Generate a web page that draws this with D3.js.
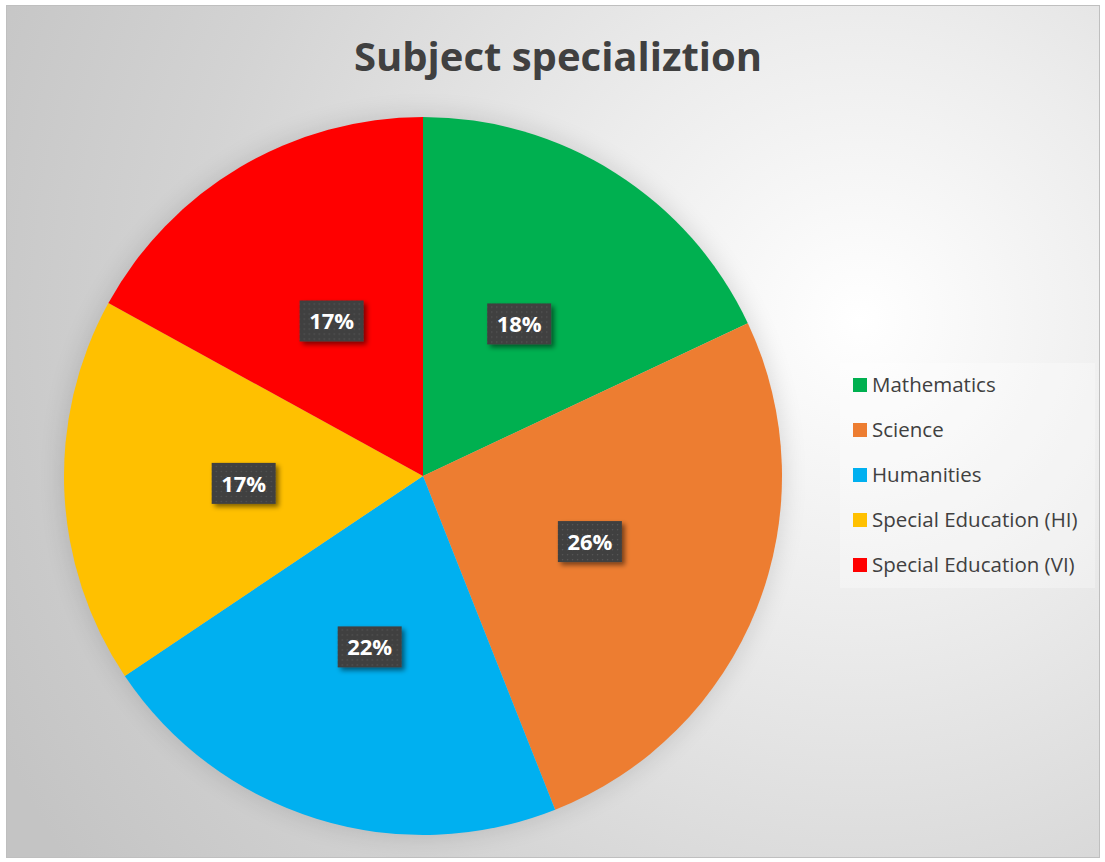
<!DOCTYPE html>
<html><head><meta charset="utf-8">
<script src="https://cdn.jsdelivr.net/npm/d3@7"></script>
<style>body{margin:0;background:#fff;}svg{display:block;}</style>
</head><body>
<script>
const categories = ["Mathematics","Science","Humanities","Special Education (HI)","Special Education (VI)"];
const values = [18.0,26.0,21.6,17.4,17.0];
const colors = ["#00b050","#ed7d31","#00b0f0","#ffc000","#ff0000"];
const title = "Subject specializtion";

const W=1105,H=862;
const svg=d3.select("body").append("svg").attr("width",W).attr("height",H);
const defs=svg.append("defs");
const bg=defs.append("radialGradient").attr("id","bg").attr("gradientUnits","userSpaceOnUse")
  .attr("cx",860).attr("cy",320).attr("r",960);
bg.append("stop").attr("offset","0").attr("stop-color","#ffffff");
bg.append("stop").attr("offset","0.3").attr("stop-color","#ededed");
bg.append("stop").attr("offset","0.7").attr("stop-color","#d3d3d3");
bg.append("stop").attr("offset","1").attr("stop-color","#c4c4c4");
const pat=defs.append("pattern").attr("id","dots").attr("width",5).attr("height",5).attr("patternUnits","userSpaceOnUse");
pat.append("rect").attr("width",5).attr("height",5).attr("fill","#404040");
pat.append("rect").attr("x",2).attr("y",2).attr("width",1.2).attr("height",1.2).attr("fill","#585858");
const sh=defs.append("filter").attr("id","sh").attr("x","-30%").attr("y","-30%").attr("width","160%").attr("height","160%");
sh.append("feGaussianBlur").attr("in","SourceAlpha").attr("stdDeviation",2.5).attr("result","b");
sh.append("feOffset").attr("dx",3).attr("dy",3).attr("result","o");
sh.append("feComponentTransfer").append("feFuncA").attr("type","linear").attr("slope",0.5);
const m=sh.append("feMerge");m.append("feMergeNode");m.append("feMergeNode").attr("in","SourceGraphic");
const ps=defs.append("filter").attr("id","ps").attr("x","-20%").attr("y","-20%").attr("width","140%").attr("height","140%");
ps.append("feGaussianBlur").attr("stdDeviation",12);

svg.append("rect").attr("x",6.5).attr("y",5.5).attr("width",1093).attr("height",852)
  .attr("fill","url(#bg)").attr("stroke","#bfbfbf").attr("stroke-width",1);

svg.append("text").attr("x",558).attr("y",71).attr("text-anchor","middle")
  .attr("font-family","Open Sans, sans-serif").attr("font-weight",700).attr("font-size",40)
  .attr("fill","#404040").text(title);

const cx=423,cy=476,R=359;
const pie=d3.pie().sort(null).value(d=>d)(values);
const arc=d3.arc().innerRadius(0).outerRadius(R);
const g=svg.append("g").attr("transform",`translate(${cx},${cy})`);
g.append("circle").attr("r",R+2).attr("fill","#000").attr("opacity",0.12).attr("filter","url(#ps)");
g.selectAll("path.sl").data(pie).join("path").attr("class","sl").attr("d",arc).attr("fill",(d,i)=>colors[i]);

const lab=g.selectAll("g.lab").data(pie).join("g").attr("class","lab")
  .attr("transform",d=>`translate(${arc.centroid(d)})`);
lab.append("rect").attr("x",-32).attr("y",-21).attr("width",64).attr("height",41)
  .attr("fill","url(#dots)").attr("filter","url(#sh)");
lab.append("text").attr("text-anchor","middle").attr("dy","0.36em")
  .attr("font-family","Open Sans, sans-serif").attr("font-weight",700).attr("font-size",22)
  .attr("fill","#fff").text(d=>Math.round(d.value)+"%");

const lg=svg.append("g");
lg.append("rect").attr("x",840).attr("y",363).attr("width",255).attr("height",225)
  .attr("fill","#ffffff").attr("fill-opacity",0.3);
const it=lg.selectAll("g.it").data(categories).join("g").attr("class","it")
  .attr("transform",(d,i)=>`translate(853,${385+i*45})`);
it.append("rect").attr("x",0).attr("y",-7).attr("width",14).attr("height",14).attr("fill",(d,i)=>colors[i]);
it.append("text").attr("x",19).attr("dy","0.35em").attr("font-family","Open Sans, sans-serif")
  .attr("font-size",20.5).attr("fill","#404040").text(d=>d);
</script>
</body></html>
